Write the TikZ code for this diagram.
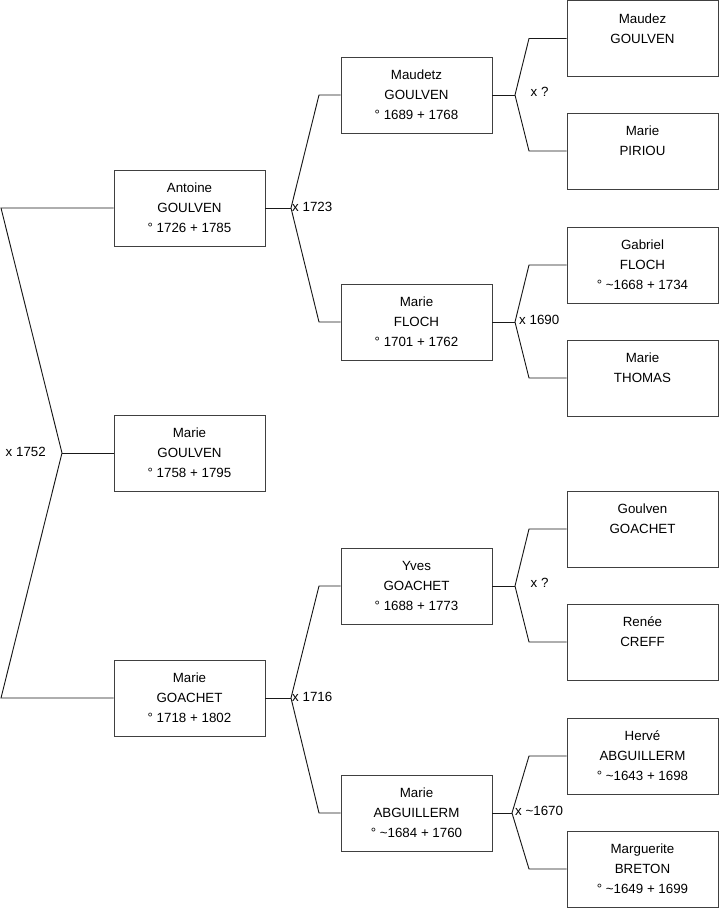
\documentclass[tikz,border=0pt]{standalone}
\usepackage{fontspec}
\setmainfont{Liberation Sans}
\begin{document}
\begin{tikzpicture}[x=0.75pt, y=-0.75pt, line width=0.6pt,
  pbox/.style={draw=black!75, fill=white, minimum width=113.25pt, minimum height=57pt,
    inner sep=0pt, align=center, font=\fontsize{10}{15}\selectfont},
  mlabel/.style={font=\fontsize{10}{12}\selectfont, inner sep=1pt},
  link/.style={draw=black!90, line width=0.7pt}]
  \useasboundingbox (0,0) rectangle (719,908);
  % first column
  \node[pbox] (antoine) at (189.5,208) {Antoine\\GOULVEN\\° 1726 + 1785};
  \node[pbox] (mgoulven) at (189.5,453) {Marie\\GOULVEN\\° 1758 + 1795};
  \node[pbox] (mgoachet) at (189.5,698) {Marie\\GOACHET\\° 1718 + 1802};
  % second column
  \node[pbox] (maudetz) at (416.5,95) {Maudetz\\GOULVEN\\° 1689 + 1768};
  \node[pbox] (mfloch) at (416.5,322) {Marie\\FLOCH\\° 1701 + 1762};
  \node[pbox] (yves) at (416.5,586) {Yves\\GOACHET\\° 1688 + 1773};
  \node[pbox] (mabg) at (416.5,813) {Marie\\ABGUILLERM\\° \textasciitilde1684 + 1760};
  % third column
  \node[pbox] (maudez) at (642.5,38.5) {Maudez\\GOULVEN\\\mbox{}};
  \node[pbox] (mpiriou) at (642.5,151) {Marie\\PIRIOU\\\mbox{}};
  \node[pbox] (gabriel) at (642.5,265) {Gabriel\\FLOCH\\° \textasciitilde1668 + 1734};
  \node[pbox] (mthomas) at (642.5,378) {Marie\\THOMAS\\\mbox{}};
  \node[pbox] (goulven) at (642.5,529) {Goulven\\GOACHET\\\mbox{}};
  \node[pbox] (renee) at (642.5,642) {Renée\\CREFF\\\mbox{}};
  \node[pbox] (herve) at (642.5,756) {Hervé\\ABGUILLERM\\° \textasciitilde1643 + 1698};
  \node[pbox] (marguerite) at (642.5,869) {Marguerite\\BRETON\\° \textasciitilde1649 + 1699};
  % marriage brackets
  \coordinate (m0) at (62,453);
  \coordinate (f0) at (1,208);
  \coordinate (g0) at (1,698);
  \draw[link] (antoine.west) -- (f0) -- (m0) -- (g0) -- (mgoachet.west);
  \draw[link] (m0) -- (mgoulven.west);
  \node[mlabel, anchor=east] (w0) at (47.5,452) {x 1752};

  \coordinate (m1) at (291,208);
  \coordinate (f1) at (319,95);
  \coordinate (g1) at (319,322);
  \draw[link] (antoine.east) -- (m1);
  \draw[link] (maudetz.west) -- (f1) -- (m1) -- (g1) -- (mfloch.west);
  \node[mlabel, anchor=west] (w1) at (290.5,207) {x 1723};

  \coordinate (m2) at (291,698);
  \coordinate (f2) at (319,586);
  \coordinate (g2) at (319,813);
  \draw[link] (mgoachet.east) -- (m2);
  \draw[link] (yves.west) -- (f2) -- (m2) -- (g2) -- (mabg.west);
  \node[mlabel, anchor=west] (w2) at (290.5,697) {x 1716};

  \coordinate (m3) at (515,95);
  \coordinate (f3) at (529,38.5);
  \coordinate (g3) at (529,151);
  \draw[link] (maudetz.east) -- (m3);
  \draw[link] (maudez.west) -- (f3) -- (m3) -- (g3) -- (mpiriou.west);
  \node[mlabel, anchor=west] (w3) at (529,92) {x ?};

  \coordinate (m4) at (515,322);
  \coordinate (f4) at (529,265);
  \coordinate (g4) at (529,378);
  \draw[link] (mfloch.east) -- (m4);
  \draw[link] (gabriel.west) -- (f4) -- (m4) -- (g4) -- (mthomas.west);
  \node[mlabel, anchor=west] (w4) at (517.5,320) {x 1690};

  \coordinate (m5) at (515,586);
  \coordinate (f5) at (529,529);
  \coordinate (g5) at (529,642);
  \draw[link] (yves.east) -- (m5);
  \draw[link] (goulven.west) -- (f5) -- (m5) -- (g5) -- (renee.west);
  \node[mlabel, anchor=west] (w5) at (529,583) {x ?};

  \coordinate (m6) at (512,813);
  \coordinate (f6) at (529,756);
  \coordinate (g6) at (529,869);
  \draw[link] (mabg.east) -- (m6);
  \draw[link] (herve.west) -- (f6) -- (m6) -- (g6) -- (marguerite.west);
  \node[mlabel, anchor=west] (w6) at (513.5,811) {x \textasciitilde1670};
\end{tikzpicture}
\end{document}
